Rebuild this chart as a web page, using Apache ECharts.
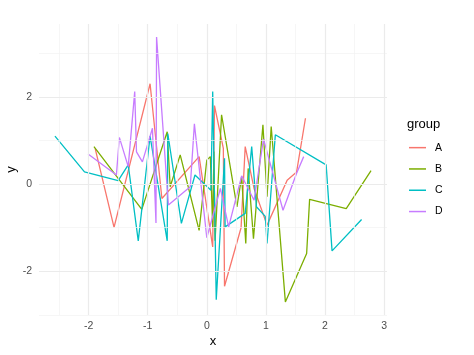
<!DOCTYPE html>
<html>
<head>
<meta charset="utf-8">
<script src="https://cdn.jsdelivr.net/npm/echarts@6/dist/echarts.min.js"></script>
<style>
	html, body { margin: 0; padding: 0; background: #fff; }
	#chart { width: 474px; height: 355px; }
</style>
</head>
<body>
<div id="chart"></div>
<script>
	// data
	const groups = ['A', 'B', 'C', 'D'];
	const xA = [-1.89, -1.57, -0.96, -0.76, -0.13, 0.10, 0.13, 0.28, 0.30, 0.58, 0.65, 0.80, 1.02, 1.36, 1.52, 1.67];
	const yA = [0.82, -0.99, 2.30, -0.33, 0.63, -1.44, 1.80, 0.82, -2.34, -1.00, 0.86, -0.10, -0.94, 0.09, 0.28, 1.51];
	const xB = [-1.91, -1.10, -0.67, -0.62, -0.45, -0.13, 0.00, 0.06, 0.10, 0.12, 0.14, 0.25, 0.51, 0.59, 0.66, 0.70, 0.79, 0.95, 1.02, 1.09, 1.33, 1.69, 1.74, 2.36, 2.78];
	const yB = [0.86, -0.58, 1.20, -0.06, 0.67, -1.06, 0.55, 0.63, -1.00, 0.75, -1.30, 1.59, -0.52, 0.17, -1.36, 0.36, -1.25, 1.36, -0.29, 1.32, -2.70, -1.59, -0.35, -0.56, 0.31];
	const xC = [-2.57, -2.07, -1.50, -1.33, -1.16, -0.96, -0.67, -0.66, -0.43, -0.20, 0.07, 0.10, 0.16, 0.30, 0.31, 0.65, 0.76, 0.84, 0.99, 1.02, 1.16, 2.02, 2.12, 2.62];
	const yC = [1.10, 0.28, 0.08, 0.44, -1.30, 1.10, -1.30, 1.16, -0.90, 0.21, -0.14, 2.12, -2.65, 0.59, -0.98, -0.67, 0.86, -0.52, -0.74, -1.36, 1.13, 0.44, -1.53, -0.81];
	const xD = [-2.01, -1.53, -1.48, -1.33, -1.22, -1.19, -1.09, -0.92, -0.86, -0.85, -0.65, -0.28, -0.21, 0.00, 0.23, 0.37, 0.59, 0.80, 0.96, 1.29, 1.52, 1.64];
	const yD = [0.69, 0.21, 1.07, 0.40, 2.12, 0.74, 0.51, 1.28, -0.89, 3.37, -0.48, -0.06, 1.38, -1.23, -0.10, -0.98, 0.19, -0.37, 1.03, -0.60, 0.25, 0.63];

	// ticks
	const xTicks = [-2, -1, 0, 1, 2, 3];
	const xMinor = [-2.5, -1.5, -0.5, 0.5, 1.5, 2.5];
	const yTicks = [-2, 0, 2];
	const yMinor = [-3, -1, 1, 3];

	const colors = ['#F8766D', '#7CAE00', '#00BFC4', '#C77CFF'];
	const font = '"Liberation Sans", Arial, Helvetica, sans-serif';

	// geom_line joins points in x order
	function pairs(xs, ys) {
		return xs.map((x, i) => [x, ys[i]]).sort((a, b) => a[0] - b[0]);
	}
	const raw = [[xA, yA], [xB, yB], [xC, yC], [xD, yD]];

	const minorStyle = { color: '#F2F2F2', width: 0.7, type: 'solid' };
	const majorStyle = { color: '#EBEBEB', width: 1.2, type: 'solid' };
	const gridLines = [];
	xMinor.forEach(v => gridLines.push({ xAxis: v, lineStyle: minorStyle }));
	yMinor.forEach(v => gridLines.push({ yAxis: v, lineStyle: minorStyle }));
	xTicks.forEach(v => gridLines.push({ xAxis: v, lineStyle: majorStyle }));
	yTicks.forEach(v => gridLines.push({ yAxis: v, lineStyle: majorStyle }));

	const series = [{
		name: 'grid',
		type: 'line',
		data: [],
		z: 1,
		silent: true,
		markLine: {
			silent: true,
			symbol: 'none',
			label: { show: false },
			emphasis: { disabled: true },
			animation: false,
			lineStyle: { type: 'solid' },
			data: gridLines
		}
	}];
	groups.forEach((g, i) => {
		series.push({
			name: g,
			type: 'line',
			z: 2,
			showSymbol: false,
			symbol: 'none',
			data: pairs(raw[i][0], raw[i][1]),
			lineStyle: { color: colors[i], width: 1.3 },
			itemStyle: { color: colors[i] }
		});
	});

	const chart = echarts.init(document.getElementById('chart'), null, { renderer: 'canvas' });
	chart.setOption({
		animation: false,
		color: colors,
		title: {
			text: 'group',
			left: 402,
			top: 113,
			textStyle: { fontFamily: font, fontSize: 13, fontWeight: 'normal', color: '#000' }
		},
		legend: {
			data: groups,
			orient: 'vertical',
			left: 404,
			top: 132,
			icon: 'rect',
			itemWidth: 17,
			itemHeight: 1.5,
			itemGap: 0,
			textStyle: { fontFamily: font, fontSize: 10.5, color: '#000', lineHeight: 21.3, padding: [0, 0, 0, 4] }
		},
		grid: { left: 39, right: 87, top: 24, bottom: 40, outerBoundsMode: 'none', containLabel: false },
		xAxis: {
			type: 'value',
			min: -2.84,
			max: 3.05,
			name: 'x',
			nameLocation: 'middle',
			nameGap: 20,
			nameMoveOverlap: false,
			nameTextStyle: { fontFamily: font, fontSize: 13, color: '#000' },
			axisLine: { show: false },
			axisTick: { show: false },
			splitLine: { show: false },
			axisLabel: { customValues: xTicks, margin: 6, fontFamily: font, fontSize: 10.5, color: '#4D4D4D' }
		},
		yAxis: {
			type: 'value',
			min: -3.0,
			max: 3.67,
			name: 'y',
			nameLocation: 'middle',
			nameGap: 21,
			nameMoveOverlap: false,
			nameRotate: 90,
			nameTextStyle: { fontFamily: font, fontSize: 13, color: '#000' },
			axisLine: { show: false },
			axisTick: { show: false },
			splitLine: { show: false },
			axisLabel: { customValues: yTicks, margin: 7, fontFamily: font, fontSize: 10.5, color: '#4D4D4D' }
		},
		series: series
	});
</script>
</body>
</html>
